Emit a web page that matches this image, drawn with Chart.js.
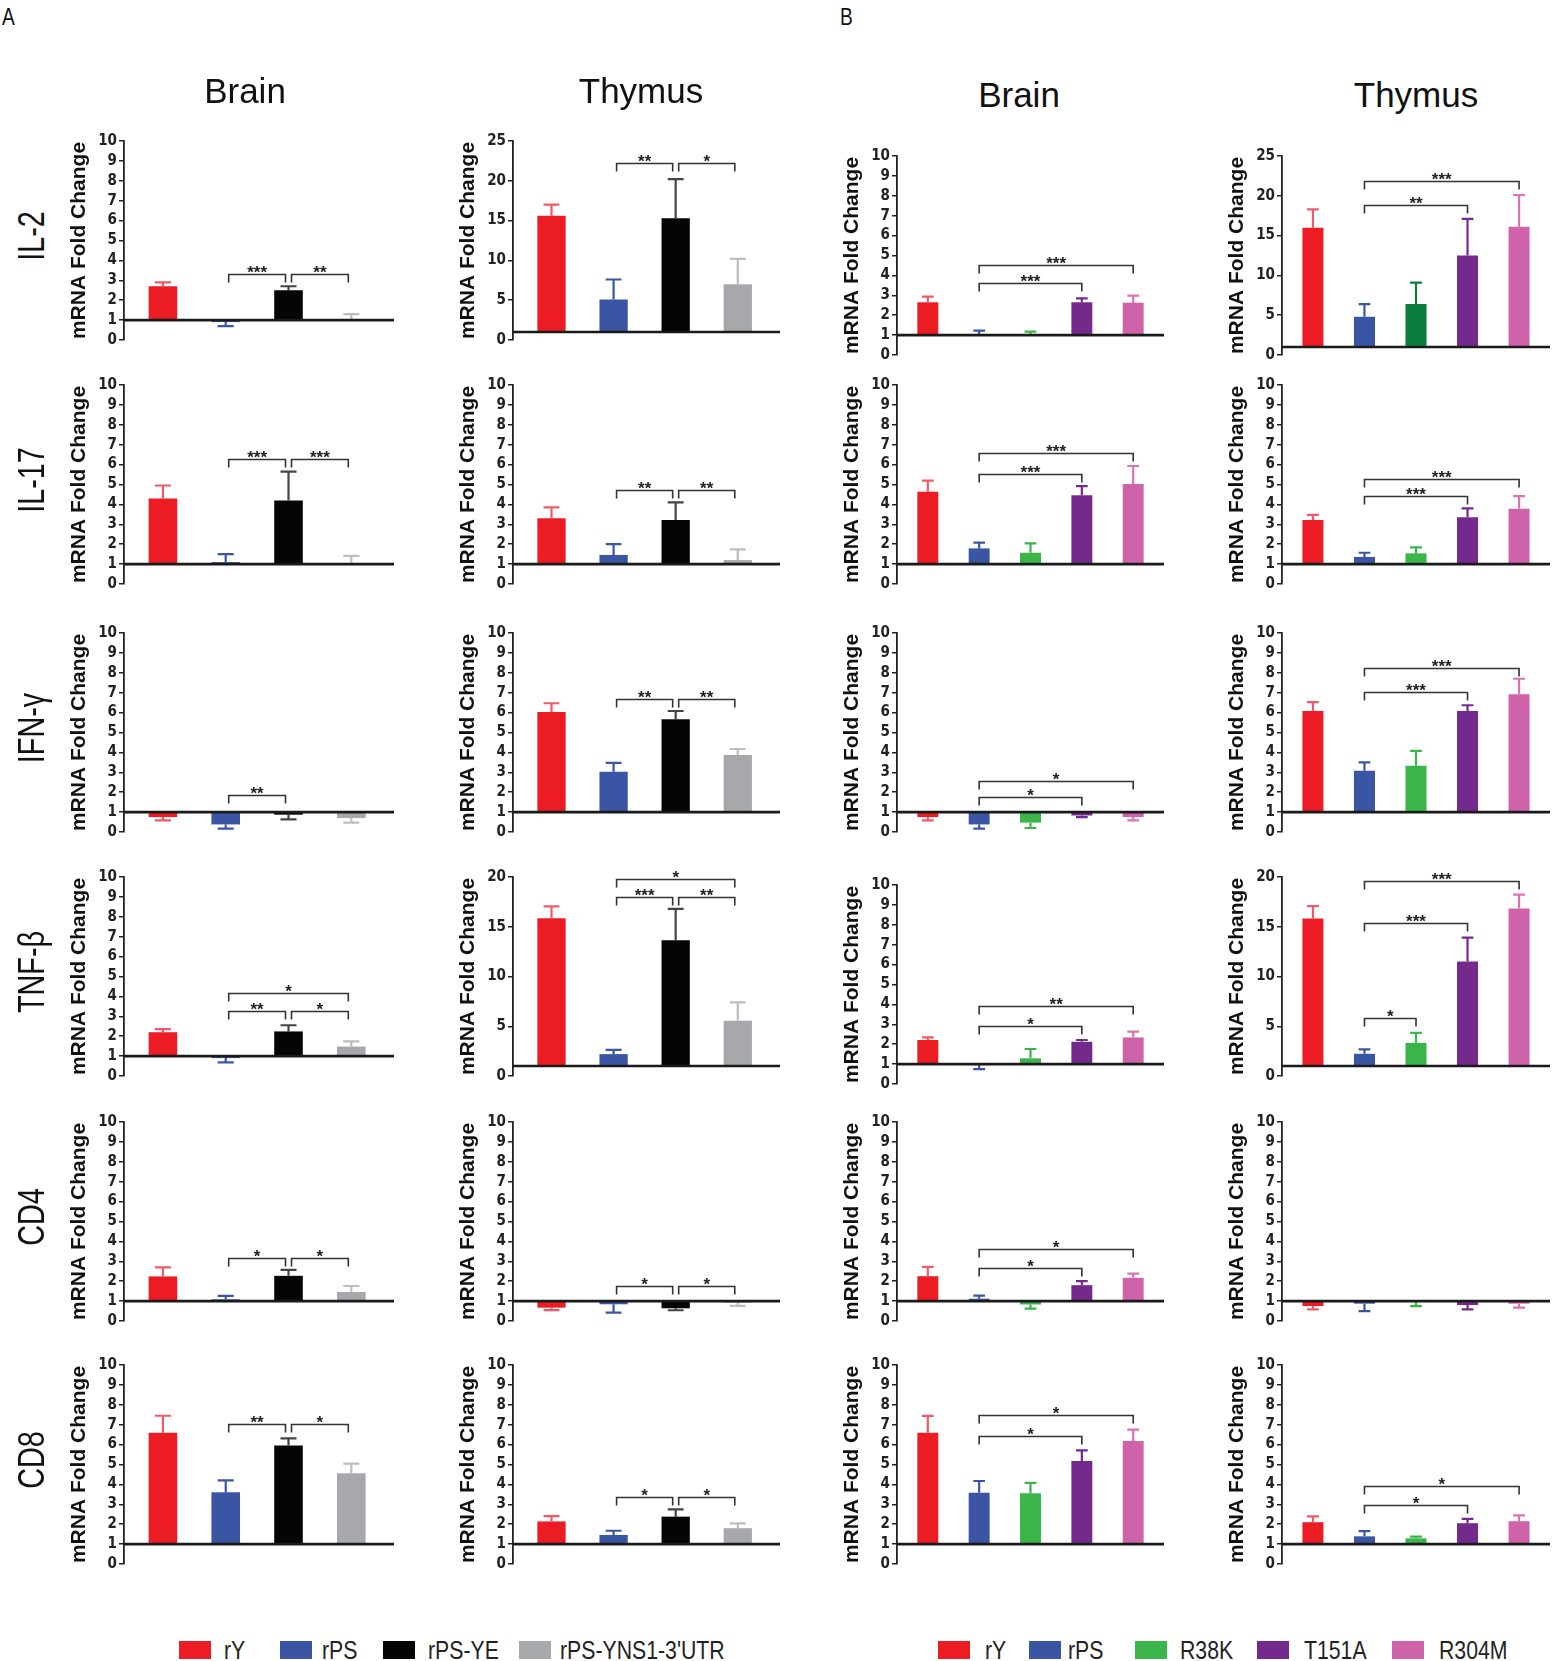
<!DOCTYPE html>
<html>
<head>
<meta charset="utf-8">
<script src="https://cdn.jsdelivr.net/npm/chart.js@4.4.1/dist/chart.umd.min.js"></script>
<style>
  body { margin: 0; background: #fff; }
  #page { position: relative; width: 1554px; height: 1661px; overflow: hidden; font-family: "Liberation Sans", Arial, sans-serif; }
  .lbl { position: absolute; white-space: nowrap; color: #111; line-height: 1; }
  .sq { position: absolute; width: 32px; height: 18px; }
</style>
</head>
<body>
<div id="page"></div>
<script>
// ================= DATA =================
const genes = ["IL-2", "IL-17", "IFN-γ", "TNF-β", "CD4", "CD8"];
const tissues = ["Brain", "Thymus"];
const groupsA = ["rY", "rPS", "rPS-YE", "rPS-YNS1-3'UTR"];
const groupsB = ["rY", "rPS", "R38K", "T151A", "R304M"];

// y axis maximum per gene row
const brainMax = [10, 10, 10, 10, 10, 10];
const thymusMax = [25, 10, 10, 20, 10, 10];

// panel A, brain (mean fold change / SEM)
const aBrainMean = [
  [2.7, 0.9, 2.5, 1.05],
  [4.3, 1.1, 4.2, 1.04],
  [0.75, 0.38, 0.87, 0.7],
  [2.2, 0.9, 2.24, 1.48],
  [2.24, 1.09, 2.27, 1.46],
  [6.6, 3.6, 5.96, 4.56]
];
const aBrainErr = [
  [0.2, 0.2, 0.2, 0.25],
  [0.65, 0.4, 1.45, 0.37],
  [0.17, 0.21, 0.24, 0.23],
  [0.16, 0.22, 0.31, 0.26],
  [0.45, 0.17, 0.3, 0.3],
  [0.85, 0.6, 0.35, 0.48]
];
// panel A, thymus
const aThymusMean = [
  [15.6, 5.1, 15.3, 7.0],
  [3.3, 1.46, 3.22, 1.2],
  [6.03, 3.03, 5.67, 3.87],
  [15.85, 2.2, 13.65, 5.55],
  [0.67, 0.84, 0.64, 0.92],
  [2.14, 1.46, 2.38, 1.8]
];
const aThymusErr = [
  [1.4, 2.5, 4.9, 3.2],
  [0.55, 0.54, 0.88, 0.54],
  [0.44, 0.44, 0.41, 0.3],
  [1.2, 0.43, 3.15, 1.85],
  [0.12, 0.42, 0.1, 0.16],
  [0.27, 0.21, 0.37, 0.24]
];
// panel B, brain
const bBrainMean = [
  [2.65, 1.05, 1.02, 2.65, 2.63],
  [4.64, 1.79, 1.57, 4.46, 5.03],
  [0.75, 0.38, 0.47, 0.83, 0.75],
  [2.21, 0.95, 1.29, 2.12, 2.34],
  [2.25, 1.12, 0.83, 1.8, 2.17],
  [6.6, 3.58, 3.56, 5.18, 6.18]
];
const bBrainErr = [
  [0.28, 0.17, 0.15, 0.2, 0.35],
  [0.55, 0.29, 0.47, 0.46, 0.9],
  [0.17, 0.21, 0.27, 0.08, 0.17],
  [0.13, 0.2, 0.47, 0.09, 0.29],
  [0.47, 0.16, 0.21, 0.2, 0.21],
  [0.84, 0.59, 0.52, 0.53, 0.57]
];
// panel B, thymus
const bThymusMean = [
  [16.0, 4.8, 6.4, 12.5, 16.1],
  [3.22, 1.36, 1.54, 3.35, 3.78],
  [6.08, 3.08, 3.33, 6.08, 6.92],
  [15.83, 2.23, 3.33, 11.5, 16.83],
  [0.75, 0.87, 0.97, 0.8, 0.87],
  [2.1, 1.39, 1.29, 2.05, 2.15]
];
const bThymusErr = [
  [2.3, 1.6, 2.7, 4.6, 4.0],
  [0.25, 0.21, 0.3, 0.45, 0.64],
  [0.45, 0.42, 0.75, 0.29, 0.78],
  [1.24, 0.44, 1.0, 2.4, 1.4],
  [0.17, 0.37, 0.22, 0.22, 0.2],
  [0.29, 0.26, 0.09, 0.22, 0.29]
];

// significance brackets: [from group, to group, bracket height, stars]
const aBrainSig = [
  [[1, 2, 3.3, "***"], [2, 3, 3.3, "**"]],
  [[1, 2, 6.26, "***"], [2, 3, 6.26, "***"]],
  [[1, 2, 1.87, "**"]],
  [[1, 2, 3.25, "**"], [2, 3, 3.25, "*"], [1, 3, 4.18, "*"]],
  [[1, 2, 3.19, "*"], [2, 3, 3.19, "*"]],
  [[1, 2, 7.03, "**"], [2, 3, 7.03, "*"]]
];
const aThymusSig = [
  [[1, 2, 22.2, "**"], [2, 3, 22.2, "*"]],
  [[1, 2, 4.72, "**"], [2, 3, 4.72, "**"]],
  [[1, 2, 6.67, "**"], [2, 3, 6.67, "**"]],
  [[1, 2, 17.98, "***"], [2, 3, 17.98, "**"], [1, 3, 19.8, "*"]],
  [[1, 2, 1.76, "*"], [2, 3, 1.76, "*"]],
  [[1, 2, 3.35, "*"], [2, 3, 3.35, "*"]]
];
const bBrainSig = [
  [[1, 3, 3.6, "***"], [1, 4, 4.52, "***"]],
  [[1, 3, 5.51, "***"], [1, 4, 6.6, "***"]],
  [[1, 3, 1.75, "*"], [1, 4, 2.58, "*"]],
  [[1, 3, 2.9, "*"], [1, 4, 3.92, "**"]],
  [[1, 3, 2.67, "*"], [1, 4, 3.62, "*"]],
  [[1, 3, 6.42, "*"], [1, 4, 7.48, "*"]]
];
const bThymusSig = [
  [[1, 3, 18.8, "**"], [1, 4, 21.9, "***"]],
  [[1, 3, 4.44, "***"], [1, 4, 5.26, "***"]],
  [[1, 3, 7.03, "***"], [1, 4, 8.25, "***"]],
  [[1, 2, 5.83, "*"], [1, 3, 15.33, "***"], [1, 4, 19.57, "***"]],
  [],
  [[1, 3, 2.94, "*"], [1, 4, 3.9, "*"]]
];

// ================= STYLE / LAYOUT =================
const colorsA = ["#ec1c24", "#3b55a5", "#050505", "#a7a8ab"];
const errColorsA = ["#ef5a68", "#3b55a5", "#444444", "#bdbec0"];
const colorsB = ["#ec1c24", "#3b55a5", "#3bb54a", "#742a8d", "#cf63a9"];
const errColorsB = ["#ef5a68", "#3b55a5", "#3bb54a", "#742a8d", "#d874b3"];
const darkGreen = "#0b7c3e";

const colAxis = [124, 513, 897, 1282];
const colRight = [394, 780, 1164, 1550];
const topsA = [141, 385, 633, 877, 1122, 1365];
const topsB3 = [156, 385, 633, 885, 1122, 1365];
const topsB4 = [156, 385, 633, 877, 1122, 1365];
const PLOT_H = 199, AXW = 64, PADT = 40, PADB = 12, PADR = 6;

const narrowFont = "'Liberation Sans Narrow', 'Arial Narrow', 'DejaVu Sans Condensed', sans-serif";
const page = document.getElementById("page");

function addLabel(text, css) {
  const d = document.createElement("div");
  d.className = "lbl";
  d.textContent = text;
  d.style.cssText = css;
  page.appendChild(d);
  return d;
}

// error bars, baseline at 1 and significance brackets
const figExtras = {
  id: "figExtras",
  afterDatasetsDraw(chart, args, o) {
    const ctx = chart.ctx, x = chart.scales.x, y = chart.scales.y, area = chart.chartArea;
    const meta = chart.getDatasetMeta(0);
    ctx.save();
    meta.data.forEach((bar, i) => {
      const v = o.means[i], e = o.errs[i];
      const end = v >= 1 ? v + e : v - e;
      const py0 = y.getPixelForValue(v), py1 = y.getPixelForValue(end);
      const cap = bar.width * 0.28;
      ctx.strokeStyle = o.errColors[i];
      ctx.lineWidth = 2.2;
      ctx.beginPath();
      ctx.moveTo(bar.x, py0); ctx.lineTo(bar.x, py1);
      ctx.moveTo(bar.x - cap, py1); ctx.lineTo(bar.x + cap, py1);
      ctx.stroke();
    });

    const by = y.getPixelForValue(1);
    ctx.strokeStyle = "#1a1a1a";
    ctx.lineWidth = 2.6;
    ctx.beginPath();
    ctx.moveTo(area.left, by); ctx.lineTo(area.right, by);
    ctx.stroke();

    o.sig.forEach(([a, b, v, s]) => {
      let xa = x.getPixelForValue(a), xb = x.getPixelForValue(b);
      if (o.gap) { xa += 3; xb -= 3; }
      const ly = Math.round(y.getPixelForValue(v)) + 0.5;
      ctx.strokeStyle = "#333";
      ctx.lineWidth = 1.6;
      ctx.beginPath();
      ctx.moveTo(xa, ly + 8); ctx.lineTo(xa, ly); ctx.lineTo(xb, ly); ctx.lineTo(xb, ly + 8);
      ctx.stroke();
      ctx.fillStyle = "#222";
      ctx.font = "bold 17px 'Liberation Sans', Arial, sans-serif";
      ctx.textAlign = "center";
      ctx.textBaseline = "alphabetic";
      ctx.fillText(s, (xa + xb) / 2, ly + 3);
    });
    ctx.restore();
  }
};

function makePlot(col, top, cfg) {
  const w = colRight[col] - colAxis[col] + AXW + PADR;
  const h = PLOT_H + PADT + PADB;
  const cv = document.createElement("canvas");
  cv.width = w; cv.height = h;
  cv.style.cssText = `position:absolute;left:${colAxis[col] - AXW}px;top:${top - PADT}px;width:${w}px;height:${h}px;`;
  page.appendChild(cv);

  new Chart(cv, {
    type: "bar",
    data: {
      datasets: [{
        data: cfg.means.map((v, i) => ({ x: i, y: [1, v] })),
        backgroundColor: cfg.colors,
        borderWidth: 0,
        barPercentage: cfg.barPct,
        categoryPercentage: 1
      }]
    },
    options: {
      responsive: false,
      animation: false,
      layout: { padding: { top: PADT, bottom: PADB, left: 0, right: PADR } },
      plugins: {
        legend: { display: false },
        tooltip: { enabled: false },
        figExtras: { means: cfg.means, errs: cfg.errs, errColors: cfg.errColors, sig: cfg.sig, gap: cfg.gap }
      },
      scales: {
        x: { type: "linear", min: cfg.xMin, max: cfg.xMax, offset: false, display: false },
        y: {
          min: 0,
          max: cfg.max,
          ticks: {
            stepSize: cfg.max > 10 ? 5 : 1,
            autoSkip: false,
            color: "#222",
            padding: 2,
            font: { family: narrowFont, size: 15, weight: "bold" }
          },
          grid: { drawOnChartArea: false, drawTicks: true, tickLength: 5, color: "#222", lineWidth: 1.5 },
          border: { display: true, color: "#222", width: 1.8 },
          title: {
            display: true,
            text: "mRNA Fold Change",
            color: "#111",
            padding: { top: 7, bottom: 0 },
            font: { family: "'Liberation Sans', Arial, sans-serif", size: 21, weight: "bold" }
          },
          afterFit(axis) { axis.width = AXW; }
        }
      }
    },
    plugins: [figExtras]
  });
}

// ================= BUILD FIGURE =================
genes.forEach((g, r) => {
  makePlot(0, topsA[r], {
    means: aBrainMean[r], errs: aBrainErr[r], max: brainMax[r], sig: aBrainSig[r],
    colors: colorsA, errColors: errColorsA, xMin: -0.62, xMax: 3.68, barPct: 0.67, gap: true
  });
  makePlot(1, topsA[r], {
    means: aThymusMean[r], errs: aThymusErr[r], max: thymusMax[r], sig: aThymusSig[r],
    colors: colorsA, errColors: errColorsA, xMin: -0.62, xMax: 3.68, barPct: 0.67, gap: true
  });
  makePlot(2, topsB3[r], {
    means: bBrainMean[r], errs: bBrainErr[r], max: brainMax[r], sig: bBrainSig[r],
    colors: colorsB, errColors: errColorsB, xMin: -0.6, xMax: 4.6, barPct: 0.68, gap: false
  });
  const tc = colorsB.slice(), te = errColorsB.slice();
  if (r === 0) { tc[2] = darkGreen; te[2] = darkGreen; }
  makePlot(3, topsB4[r], {
    means: bThymusMean[r], errs: bThymusErr[r], max: thymusMax[r], sig: bThymusSig[r],
    colors: tc, errColors: te, xMin: -0.6, xMax: 4.6, barPct: 0.68, gap: false
  });

  // gene label on the left (condensed look by horizontal squeeze)
  addLabel(g, `left:32px;top:${topsA[r] + 95}px;font-size:36px;transform:translate(-50%,-50%) rotate(-90deg) scaleX(0.8);`);
});

// panel letters and column titles
addLabel("A", "left:2px;top:5px;font-size:24px;transform:scaleX(0.8);transform-origin:left top;");
addLabel("B", "left:840px;top:5px;font-size:24px;transform:scaleX(0.8);transform-origin:left top;");
[[tissues[0], 245, 90], [tissues[1], 641, 90], [tissues[0], 1019, 94], [tissues[1], 1416, 94]].forEach(([t, x, y]) => {
  addLabel(t, `left:${x}px;top:${y}px;font-size:35px;transform:translate(-50%,-50%);`);
});

// legends
const legA = [[179, 224], [280, 322], [383, 428], [519, 560]];
const legB = [[938, 985], [1029, 1068], [1135, 1180], [1257, 1304], [1392, 1439]];
function addLegend(groups, colors, pos) {
  groups.forEach((name, i) => {
    const sq = document.createElement("div");
    sq.className = "sq";
    sq.style.cssText = `left:${pos[i][0]}px;top:1641px;background:${colors[i]};`;
    page.appendChild(sq);
    addLabel(name, `left:${pos[i][1]}px;top:1650px;font-size:25px;color:#222;transform:translateY(-50%) scaleX(0.85);transform-origin:left center;`);
  });
}
addLegend(groupsA, colorsA, legA);
addLegend(groupsB, colorsB, legB);
</script>
</body>
</html>
